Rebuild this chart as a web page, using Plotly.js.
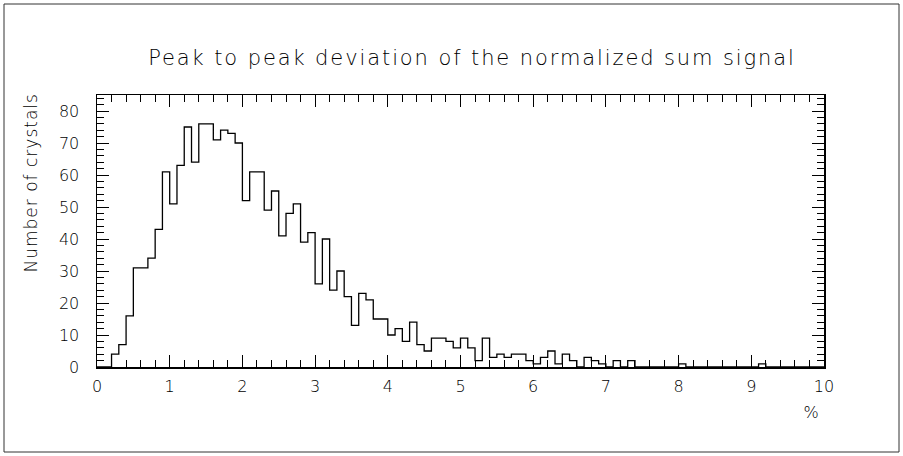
<!DOCTYPE html>
<html>
<head>
<meta charset="utf-8">
<script src="https://cdn.plot.ly/plotly-3.0.1.min.js"></script>
<style>
html,body{margin:0;padding:0;background:#fff;}
#chart{width:903px;height:456px;}
#chart .gtitle{letter-spacing:1.9px;}
#chart .annotation-text{letter-spacing:1px;}
</style>
</head>
<body>
<div id="chart"></div>
<script>
// Histogram: 100 bins of width 0.1 from 0 to 10 (%)
const binStart = 0;
const binWidth = 0.1;
const counts = [
  0, 0, 4, 7, 16, 31, 31, 34, 43, 61,
  51, 63, 75, 64, 76, 76, 71, 74, 73, 70,
  52, 61, 61, 49, 55, 41, 48, 51, 39, 42,
  26, 40, 24, 30, 22, 13, 23, 21, 15, 15,
  10, 12, 8, 14, 7, 5, 9, 9, 8, 6,
  9, 6, 2, 9, 3, 4, 3, 4, 4, 2,
  1, 3, 5, 1, 4, 2, 0, 3, 2, 1,
  0, 2, 0, 2, 0, 0, 0, 0, 0, 0,
  1, 0, 0, 0, 0, 0, 0, 0, 0, 0,
  0, 1, 0, 0, 0, 0, 0, 0, 0, 0
];
const titleText = "Peak to peak deviation of the normalized sum signal";
const yTitleText = "Number of crystals";
const xTitleText = "%";
const xTickVals = [0,1,2,3,4,5,6,7,8,9,10];
const yTickVals = [0,10,20,30,40,50,60,70,80];

// step outline built from bin edges
const edges = [];
const stepY = [];
for (let i = 0; i <= counts.length; i++) {
  edges.push(+(binStart + i * binWidth).toFixed(4));
  stepY.push(i < counts.length ? counts[i] : counts[counts.length - 1]);
}

const FONT = "'DejaVu Sans', 'Liberation Sans', sans-serif";

// plot-area geometry in pixels (for the outer frame)
const W = 903, H = 456, mL = 97, mR = 79, mT = 95, mB = 89;
const pw = W - mL - mR, ph = H - mT - mB;
const px = v => (v - mL) / pw;
const py = v => (H - mB - v) / ph;

const trace = {
  type: 'scatter', mode: 'lines',
  x: edges, y: stepY,
  line: {shape: 'hv', color: '#000', width: 1.3},
  hoverinfo: 'x+y', showlegend: false
};

const axisCommon = {
  showgrid: false, zeroline: false,
  showline: true, linecolor: '#000', linewidth: 1.5,
  mirror: 'allticks', ticks: 'inside', tickcolor: '#000', tickwidth: 1,
  ticklen: 12,
  tickfont: {family: FONT, size: 16, color: '#000', weight: 300}
};

const layout = {
  width: W, height: H,
  paper_bgcolor: '#fff', plot_bgcolor: '#fff',
  margin: {l: mL, r: mR, t: mT, b: mB, pad: 0},
  title: {
    text: titleText, xref: 'container', yref: 'container',
    x: 472 / W, y: 1 - 58 / H, xanchor: 'center', yanchor: 'middle',
    font: {family: FONT, size: 21, color: '#000', weight: 300}
  },
  xaxis: Object.assign({}, axisCommon, {
    range: [0, 10], tickvals: xTickVals, ticktext: xTickVals.map(String),
    ticklabelstandoff: 4,
    minor: {dtick: 0.2, ticks: 'inside', ticklen: 7, tickcolor: '#000', tickwidth: 1, showgrid: false}
  }),
  yaxis: Object.assign({}, axisCommon, {
    range: [0, 85], tickvals: yTickVals, ticktext: yTickVals.map(String),
    ticklabelstandoff: 13,
    minor: {dtick: 2, ticks: 'inside', ticklen: 7, tickcolor: '#000', tickwidth: 1, showgrid: false}
  }),
  annotations: [
    {text: yTitleText, xref: 'paper', yref: 'paper', x: px(30), y: py(101),
     xanchor: 'center', yanchor: 'top', textangle: -90, showarrow: false,
     font: {family: FONT, size: 17, color: '#000', weight: 300}},
    {text: xTitleText, xref: 'paper', yref: 'paper', x: px(821), y: py(412),
     xanchor: 'right', yanchor: 'middle', showarrow: false,
     font: {family: FONT, size: 16, color: '#000', weight: 300}}
  ],
  shapes: [
    {type: 'rect', xref: 'paper', yref: 'paper',
     x0: px(4), x1: px(899), y0: py(452), y1: py(4),
     line: {color: '#333', width: 1}, fillcolor: 'rgba(0,0,0,0)', layer: 'below'}
  ]
};

Plotly.newPlot('chart', [trace], layout, {displayModeBar: false, staticPlot: true});
</script>
</body>
</html>
